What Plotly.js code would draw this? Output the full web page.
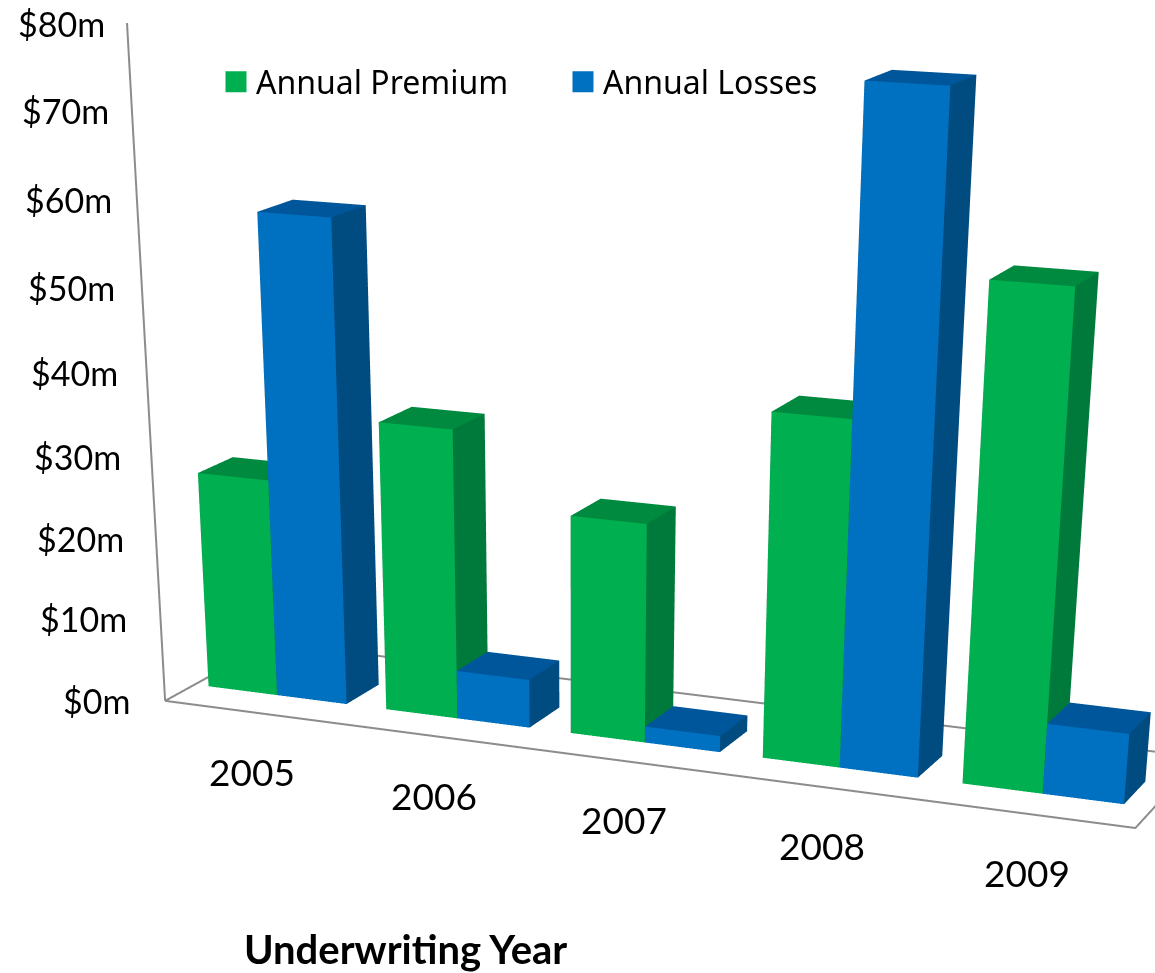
<!DOCTYPE html>
<html><head><meta charset="utf-8">
<script src="https://cdn.plot.ly/plotly-3.0.1.min.js"></script>
<style>html,body{margin:0;padding:0;background:#fff;overflow:hidden;width:1155px;height:973px}#w{width:1155px;height:973px;overflow:hidden;position:relative}</style>
</head><body><div id="w"><div id="c"></div></div>
<script>
const years = ['2005','2006','2007','2008','2009'];
const annualPremium = [27, 35.4, 26.6, 41, 57.5];
const annualLosses = [58.7, 6, 2, 77.4, 8.4];
const yTicks = [0,10,20,30,40,50,60,70,80];
const yTickLabels = ['$0m','$10m','$20m','$30m','$40m','$50m','$60m','$70m','$80m'];

const gap = 0.08, barW = 0.39, y0 = 0.27, y1 = 0.59;
const H = 3000;
function bars(vals, off, cFront, cSide, cTop){
  const X=[],Y=[],Z=[],I=[],J=[],K=[],FC=[];
  const quad=(a,b,c,d,col)=>{const n=X.length;
    [a,b,c,d].forEach(p=>{X.push(p[0]);Y.push(p[1]);Z.push(p[2]);});
    I.push(n,n);J.push(n+1,n+2);K.push(n+2,n+3);FC.push(col,col);};
  vals.forEach((v,i)=>{
    const a=i+gap+off*barW,b=a+barW;
    quad([a,y0,0],[b,y0,0],[b,y0,v],[a,y0,v],cFront);
    quad([b,y0,0],[b,y1,0],[b,y1,v],[b,y0,v],cSide);
    quad([a,y0,v],[b,y0,v],[b,y1,v],[a,y1,v],cTop);
    quad([a,y0,0],[a,y1,0],[a,y1,v],[a,y0,v],cSide);
    quad([a,y1,0],[b,y1,0],[b,y1,v],[a,y1,v],cSide);
  });
  return {x:X,y:Y,z:Z,i:I,j:J,k:K,facecolor:FC};
}
const light={ambient:1,diffuse:0,specular:0,roughness:1,fresnel:0};
const t1=Object.assign(bars(annualPremium,0,'#00B050','#007A3A','#008A40'),{type:'mesh3d',name:'Annual Premium',color:'#00B050',showlegend:false,flatshading:true,lighting:light,hoverinfo:'skip',showscale:false});
const t2=Object.assign(bars(annualLosses,1,'#0070C0','#004C80','#00569A'),{type:'mesh3d',name:'Annual Losses',color:'#0070C0',showlegend:false,flatshading:true,lighting:light,hoverinfo:'skip',showscale:false});
const frame={type:'scatter3d',mode:'lines',x:[0,0,null,0,5,5,null,0,0,null,0,5],y:[0,0,null,0,0,1,null,0,1,null,1,1],z:[80,0,null,0,0,0,null,0,0,null,0,0],line:{color:'#8C8C8C',width:4},showlegend:false,hoverinfo:'skip'};
const key=(name,c)=>({type:'scatter',mode:'markers',x:[null],y:[null],name:name,hoverinfo:'skip',marker:{symbol:'square',size:16,color:c,line:{color:c,width:5}}});
const axisOff={visible:false,showspikes:false};
const ann=[];
yTicks.forEach((t,i)=>ann.push({x:0,y:0,z:t,text:yTickLabels[i],showarrow:false,xanchor:'right',xshift:-33+13*t/80,yshift:(t>0&&t<80)?4:0,font:{family:'Lato',size:34,color:'#000'}}));
years.forEach((t,i)=>ann.push({x:i+0.49,y:0,z:0,text:t,showarrow:false,yshift:-59,font:{family:'Lato',size:37,color:'#000'}}));
Plotly.newPlot('c',[t1,t2,frame,key('Annual Premium','#00B050'),key('Annual Losses','#0070C0')],{
  width:1155,height:H,margin:{l:0,r:0,t:0,b:0},paper_bgcolor:'#fff',
  font:{family:'Lato',color:'#000'},
  showlegend:true,
  xaxis:{visible:false},yaxis:{visible:false},
  legend:{orientation:'h',x:0.187,y:1-82/H,xanchor:'left',yanchor:'middle',entrywidth:302,entrywidthmode:'pixels',font:{family:'Noto Sans',size:32,color:'#000'},bgcolor:'rgba(0,0,0,0)'},
  scene:{domain:{x:[0,1],y:[0,1]},aspectmode:'manual',aspectratio:{x:1.374,y:0.314,z:0.87},
    camera:{eye:{x:1.766,y:-4.428,z:1.02},center:{x:0.730,y:-2.017,z:-0.435},up:{x:0,y:0,z:1}},
    xaxis:Object.assign({range:[0,5]},axisOff),yaxis:Object.assign({range:[0,1]},axisOff),zaxis:Object.assign({range:[0,80]},axisOff),annotations:ann},
  annotations:[{xref:'paper',yref:'paper',x:405/1155,y:1-949/H,yanchor:'middle',text:'<b>Underwriting Year</b>',showarrow:false,font:{family:'Lato',size:40,color:'#000'}}]
},{displayModeBar:false});
</script></body></html>
